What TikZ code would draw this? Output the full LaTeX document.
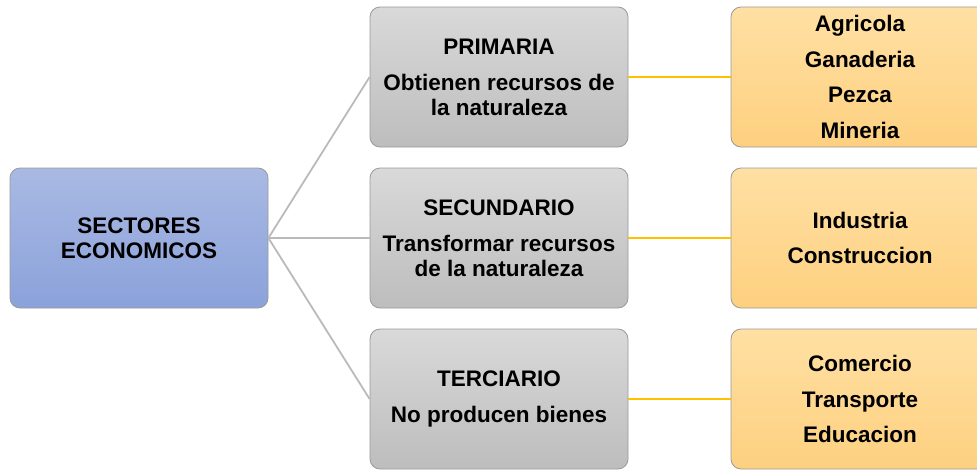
\documentclass[tikz,border=0pt]{standalone}
\usepackage{fontspec}
\setmainfont{Liberation Sans}
\begin{document}
\begin{tikzpicture}[x=1pt,y=-1pt,
  box/.style={rounded corners=10pt, draw=black!40, line width=0.8pt, minimum width=258pt, minimum height=140pt, align=center, inner sep=0pt, font=\bfseries\fontsize{22.5}{25}\selectfont},
  orangebox/.style={box, font=\bfseries\fontsize{22.5}{35.5}\selectfont},
  grayline/.style={draw=black!27, line width=1.8pt},
  orangeline/.style={line width=2.6pt}]
\useasboundingbox (0,0) rectangle (977,469);
\clip (0,0) rectangle (977,469);
\definecolor{bl1}{HTML}{A9B9E3}\definecolor{bl2}{HTML}{8BA2DA}
\definecolor{gr1}{HTML}{D9D9D9}\definecolor{gr2}{HTML}{BDBDBD}
\definecolor{or1}{HTML}{FFE0A3}\definecolor{or2}{HTML}{FDD080}
\definecolor{orl}{HTML}{FFC000}
\node[box, top color=bl1, bottom color=bl2] (sec) at (139,238) {SECTORES\\ECONOMICOS};
\node[box, top color=gr1, bottom color=gr2] (pri) at (499,77) {PRIMARIA\\[11pt]Obtienen recursos de\\la naturaleza};
\node[box, top color=gr1, bottom color=gr2] (secu) at (499,238) {SECUNDARIO\\[11pt]Transformar recursos\\de la naturaleza};
\node[box, top color=gr1, bottom color=gr2] (ter) at (499,399) {TERCIARIO\\[11pt]No producen bienes};
\node[orangebox, top color=or1, bottom color=or2] (pri2) at (860,77) {Agricola\\Ganaderia\\Pezca\\Mineria};
\node[orangebox, top color=or1, bottom color=or2] (secu2) at (860,238) {Industria\\Construccion};
\node[orangebox, top color=or1, bottom color=or2] (ter2) at (860,399) {Comercio\\Transporte\\Educacion};
\draw[grayline] (sec.east) -- (pri.west);
\draw[grayline] (sec.east) -- (secu.west);
\draw[grayline] (sec.east) -- (ter.west);
\draw[orangeline, draw=orl] (pri.east) -- (pri2.west);
\draw[orangeline, draw=orl] (secu.east) -- (secu2.west);
\draw[orangeline, draw=orl] (ter.east) -- (ter2.west);
\end{tikzpicture}
\end{document}
